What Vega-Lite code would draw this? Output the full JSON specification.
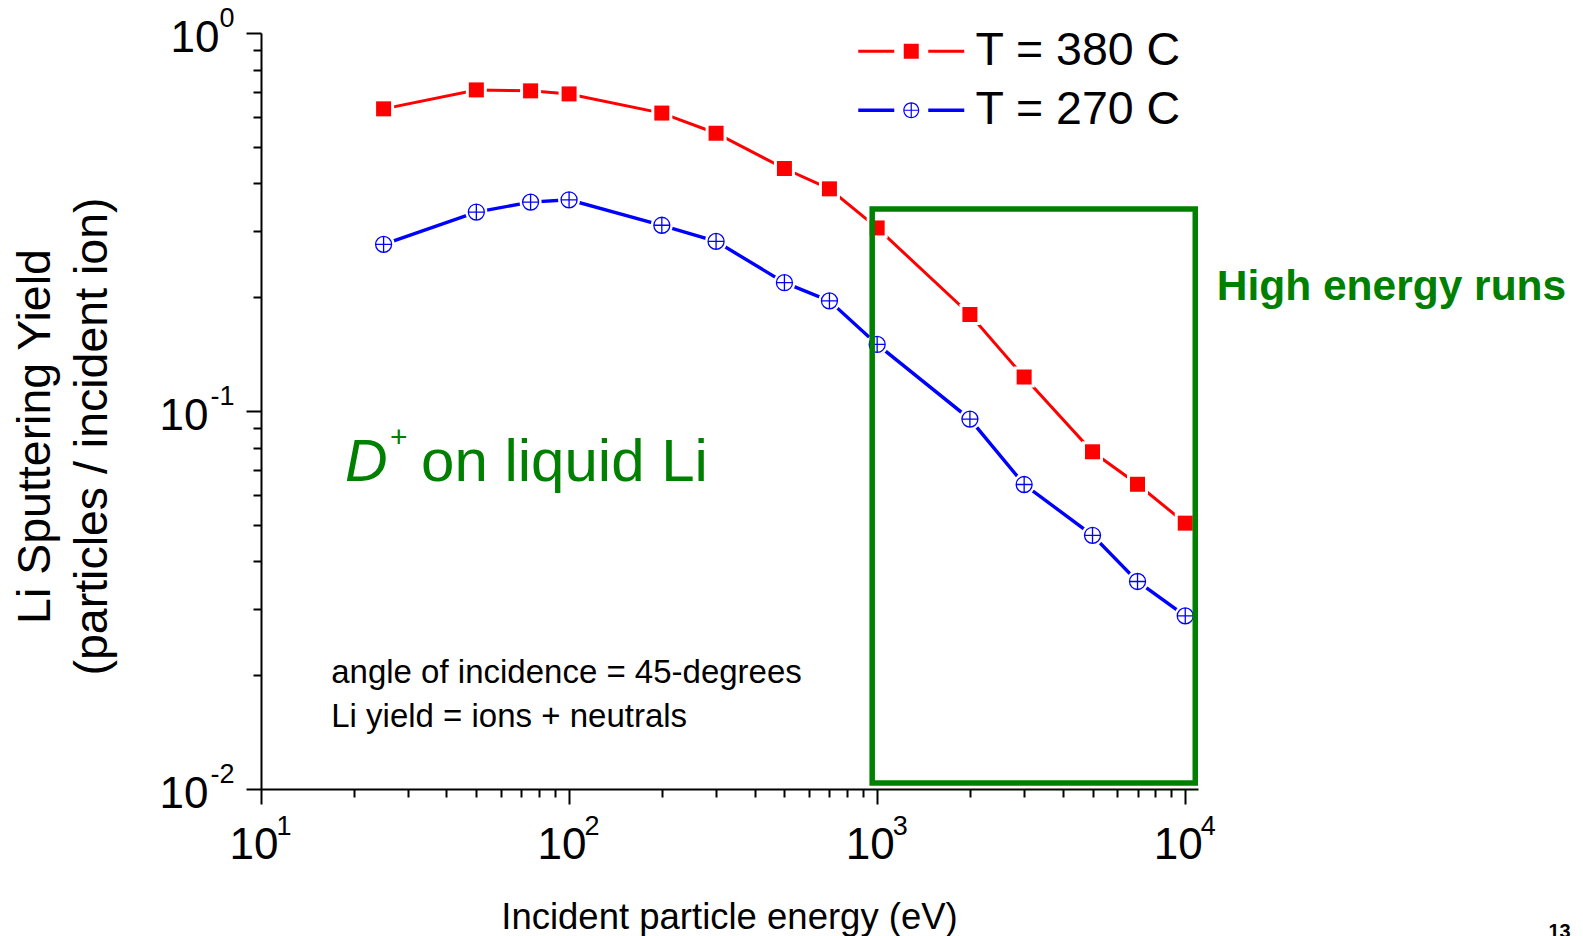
{
  "$schema": "https://vega.github.io/schema/vega-lite/v6.json",
  "width": 937,
  "height": 756,
  "autosize": {"type": "none"},
  "padding": {"left": 261, "top": 33, "right": 385, "bottom": 147},
  "background": "white",
  "config": {
    "view": {"stroke": null},
    "axis": {
      "grid": false,
      "domainColor": "black",
      "tickColor": "black",
      "labelColor": "black",
      "titleColor": "black",
      "labelFont": "Liberation Sans",
      "titleFont": "Liberation Sans",
      "titleFontWeight": "normal",
      "domainWidth": 2,
      "tickWidth": 2,
      "labelFlush": false,
      "labelOverlap": false,
      "labelBound": false
    },
    "text": {"font": "Liberation Sans"}
  },
  "data": {
    "values": [
      {"series": "T = 380 C", "energy": 25, "yield": 0.630},
      {"series": "T = 380 C", "energy": 50, "yield": 0.707},
      {"series": "T = 380 C", "energy": 75, "yield": 0.703},
      {"series": "T = 380 C", "energy": 100, "yield": 0.690},
      {"series": "T = 380 C", "energy": 200, "yield": 0.614},
      {"series": "T = 380 C", "energy": 300, "yield": 0.543},
      {"series": "T = 380 C", "energy": 500, "yield": 0.438},
      {"series": "T = 380 C", "energy": 700, "yield": 0.387},
      {"series": "T = 380 C", "energy": 1000, "yield": 0.305},
      {"series": "T = 380 C", "energy": 2000, "yield": 0.180},
      {"series": "T = 380 C", "energy": 3000, "yield": 0.123},
      {"series": "T = 380 C", "energy": 5000, "yield": 0.078},
      {"series": "T = 380 C", "energy": 7000, "yield": 0.064},
      {"series": "T = 380 C", "energy": 10000, "yield": 0.0505},
      {"series": "T = 270 C", "energy": 25, "yield": 0.276},
      {"series": "T = 270 C", "energy": 50, "yield": 0.336},
      {"series": "T = 270 C", "energy": 75, "yield": 0.357},
      {"series": "T = 270 C", "energy": 100, "yield": 0.362},
      {"series": "T = 270 C", "energy": 200, "yield": 0.310},
      {"series": "T = 270 C", "energy": 300, "yield": 0.281},
      {"series": "T = 270 C", "energy": 500, "yield": 0.2185},
      {"series": "T = 270 C", "energy": 700, "yield": 0.1956},
      {"series": "T = 270 C", "energy": 1000, "yield": 0.150},
      {"series": "T = 270 C", "energy": 2000, "yield": 0.0952},
      {"series": "T = 270 C", "energy": 3000, "yield": 0.0639},
      {"series": "T = 270 C", "energy": 5000, "yield": 0.0469},
      {"series": "T = 270 C", "energy": 7000, "yield": 0.0354},
      {"series": "T = 270 C", "energy": 10000, "yield": 0.0287}
    ]
  },
  "resolve": {"axis": {"x": "independent", "y": "independent"}},
  "layer": [
    {
      "transform": [{"filter": "datum.series === 'T = 380 C'"}],
      "mark": {"type": "line", "color": "#ff0000", "strokeWidth": 3},
      "encoding": {
        "x": {
          "field": "energy",
          "type": "quantitative",
          "scale": {"type": "log", "domain": [10, 11000], "nice": false},
          "axis": {
            "orient": "bottom",
            "values": [10, 100, 1000, 10000],
            "labelExpr": "'10'",
            "tickSize": 15,
            "labelFontSize": 44,
            "labelAlign": "center",
            "labelBaseline": "alphabetic",
            "labelOffset": -7.5,
            "labelPadding": 54,
            "title": "Incident particle energy (eV)",
            "titleFontSize": 36.5,
            "titleX": 468,
            "titleY": 139,
            "titleAlign": "center",
            "titleBaseline": "alphabetic"
          }
        },
        "y": {
          "field": "yield",
          "type": "quantitative",
          "scale": {"type": "log", "domain": [0.01, 1], "nice": false},
          "axis": {
            "orient": "left",
            "values": [0.01, 0.1, 1],
            "labelExpr": "'10'",
            "tickSize": 15,
            "labelFontSize": 44,
            "labelAlign": "right",
            "labelBaseline": "alphabetic",
            "labelOffset": 18,
            "labelPadding": {"condition": {"test": "datum.value > 0.5", "value": 27}, "value": 38},
            "title": ["Li Sputtering Yield", "(particles / incident ion)"],
            "titleFontSize": 46.5,
            "titleLineHeight": 57,
            "titleAngle": 270,
            "titleX": -212,
            "titleY": 403,
            "titleAlign": "center",
            "titleBaseline": "alphabetic"
          }
        }
      }
    },
    {
      "transform": [{"filter": "datum.series === 'T = 270 C'"}],
      "mark": {"type": "line", "color": "#0000ff", "strokeWidth": 3.4},
      "encoding": {
        "x": {
          "field": "energy",
          "type": "quantitative",
          "axis": {
            "orient": "bottom",
            "values": [10, 100, 1000, 10000],
            "labelExpr": "'' + round(log(datum.value) / LN10)",
            "ticks": false,
            "tickSize": 0,
            "domain": false,
            "labelFontSize": 27,
            "labelAlign": "left",
            "labelBaseline": "alphabetic",
            "labelOffset": 15,
            "labelPadding": 45,
            "title": null
          }
        },
        "y": {
          "field": "yield",
          "type": "quantitative",
          "axis": {
            "orient": "left",
            "values": [0.01, 0.1, 1],
            "labelExpr": "'' + round(log(datum.value) / LN10)",
            "ticks": false,
            "tickSize": 0,
            "domain": false,
            "labelFontSize": 27,
            "labelAlign": "right",
            "labelBaseline": "alphabetic",
            "labelOffset": -7,
            "labelPadding": 27,
            "title": null
          }
        }
      }
    },
    {
      "transform": [{"filter": "datum.series === 'T = 380 C'"}],
      "mark": {"type": "point", "shape": "square", "filled": true, "color": "white", "opacity": 1, "size": 441},
      "encoding": {
        "x": {
          "field": "energy",
          "type": "quantitative",
          "axis": {
            "orient": "bottom",
            "values": [20, 30, 40, 50, 60, 70, 80, 90, 200, 300, 400, 500, 600, 700, 800, 900, 2000, 3000, 4000, 5000, 6000, 7000, 8000, 9000],
            "labels": false,
            "domain": false,
            "tickSize": 8,
            "title": null
          }
        },
        "y": {
          "field": "yield",
          "type": "quantitative",
          "axis": {
            "orient": "left",
            "values": [0.02, 0.03, 0.04, 0.05, 0.06, 0.07, 0.08, 0.09, 0.2, 0.3, 0.4, 0.5, 0.6, 0.7, 0.8, 0.9],
            "labels": false,
            "domain": false,
            "tickSize": 8,
            "title": null
          }
        }
      }
    },
    {
      "transform": [{"filter": "datum.series === 'T = 270 C'"}],
      "mark": {"type": "point", "shape": "circle", "filled": true, "color": "white", "opacity": 1, "size": 484},
      "encoding": {
        "x": {"field": "energy", "type": "quantitative", "axis": null},
        "y": {"field": "yield", "type": "quantitative", "axis": null}
      }
    },
    {
      "transform": [{"filter": "datum.series === 'T = 380 C'"}],
      "mark": {"type": "point", "shape": "square", "filled": true, "color": "#ff0000", "opacity": 1, "size": 225},
      "encoding": {
        "x": {"field": "energy", "type": "quantitative", "axis": null},
        "y": {"field": "yield", "type": "quantitative", "axis": null}
      }
    },
    {
      "transform": [{"filter": "datum.series === 'T = 270 C'"}],
      "mark": {
        "type": "point",
        "shape": "M1,0A1,1,0,1,1,-1,0A1,1,0,1,1,1,0ZM-1,0L1,0M0,-1L0,1",
        "filled": true,
        "fill": "white",
        "stroke": "#0000ff",
        "strokeWidth": 1.3,
        "opacity": 1,
        "size": 256
      },
      "encoding": {
        "x": {"field": "energy", "type": "quantitative", "axis": null},
        "y": {"field": "yield", "type": "quantitative", "axis": null}
      }
    },
    {
      "mark": {"type": "point", "filled": true, "opacity": 0},
      "encoding": {
        "x": {"field": "energy", "type": "quantitative", "axis": null},
        "y": {"field": "yield", "type": "quantitative", "axis": null},
        "color": {
          "field": "series",
          "type": "nominal",
          "scale": {"domain": ["T = 380 C", "T = 270 C"], "range": ["#ff0000", "#0000ff"]},
          "legend": {
            "orient": "none",
            "legendX": 627,
            "legendY": -5,
            "title": null,
            "padding": 0,
            "symbolSize": 1600,
            "symbolStrokeWidth": 0,
            "symbolOpacity": 1,
            "labelFontSize": 46.5,
            "labelFont": "Liberation Sans",
            "labelColor": "black",
            "labelOffset": 41,
            "labelLimit": 0,
            "rowPadding": 12,
            "direction": "vertical"
          }
        },
        "shape": {
          "field": "series",
          "type": "nominal",
          "scale": {
            "domain": ["T = 380 C", "T = 270 C"],
            "range": [
              "M-2.65,-0.075H-0.85V0.075H-2.65ZM0.85,-0.075H2.65V0.075H0.85ZM-0.375,-0.375H0.375V0.375H-0.375Z",
              "M-2.65,-0.083H-0.85V0.083H-2.65ZM0.85,-0.083H2.65V0.083H0.85ZM0.4,0A0.4,0.4,0,1,1,-0.4,0A0.4,0.4,0,1,1,0.4,0ZM0.34,0A0.34,0.34,0,1,0,-0.34,0A0.34,0.34,0,1,0,0.34,0ZM-0.36,-0.03H0.36V0.03H-0.36ZM-0.03,-0.36H0.03V0.36H-0.03Z"
            ]
          },
          "legend": {
            "orient": "none",
            "legendX": 627,
            "legendY": -5,
            "title": null,
            "padding": 0,
            "symbolSize": 1600,
            "symbolStrokeWidth": 0,
            "symbolOpacity": 1,
            "labelFontSize": 46.5,
            "labelFont": "Liberation Sans",
            "labelColor": "black",
            "labelOffset": 41,
            "labelLimit": 0,
            "rowPadding": 12,
            "direction": "vertical"
          }
        }
      }
    },
    {
      "data": {"values": [{}]},
      "mark": {"type": "rect", "filled": false, "color": "#008000", "strokeWidth": 5.5},
      "encoding": {
        "x": {"datum": 963.5, "type": "quantitative", "axis": null},
        "x2": {"datum": 10777},
        "y": {"datum": 0.3422, "type": "quantitative", "axis": null},
        "y2": {"datum": 0.01037}
      }
    },
    {
      "data": {"values": [{}]},
      "mark": {
        "type": "text",
        "text": ["angle of incidence = 45-degrees", "Li yield = ions + neutrals"],
        "align": "left",
        "baseline": "alphabetic",
        "fontSize": 33,
        "lineHeight": 44,
        "color": "black"
      },
      "encoding": {
        "x": {"datum": 16.9, "type": "quantitative", "axis": null},
        "y": {"datum": 0.01911, "type": "quantitative", "axis": null}
      }
    },
    {
      "data": {"values": [{}]},
      "mark": {"type": "text", "text": "D", "fontStyle": "italic", "align": "left", "baseline": "alphabetic", "fontSize": 59, "color": "#008000"},
      "encoding": {
        "x": {"datum": 18.74, "type": "quantitative", "axis": null},
        "y": {"datum": 0.0653, "type": "quantitative", "axis": null}
      }
    },
    {
      "data": {"values": [{}]},
      "mark": {"type": "text", "text": "+", "align": "left", "baseline": "alphabetic", "fontSize": 30, "dx": 45, "dy": -34, "color": "#008000"},
      "encoding": {
        "x": {"datum": 18.74, "type": "quantitative", "axis": null},
        "y": {"datum": 0.0653, "type": "quantitative", "axis": null}
      }
    },
    {
      "data": {"values": [{}]},
      "mark": {"type": "text", "text": "on liquid Li", "align": "left", "baseline": "alphabetic", "fontSize": 60, "dx": 76, "color": "#008000"},
      "encoding": {
        "x": {"datum": 18.74, "type": "quantitative", "axis": null},
        "y": {"datum": 0.0653, "type": "quantitative", "axis": null}
      }
    },
    {
      "data": {"values": [{}]},
      "mark": {"type": "text", "text": "High energy runs", "align": "left", "baseline": "alphabetic", "fontSize": 42.5, "fontWeight": "bold", "color": "#008000"},
      "encoding": {
        "x": {"datum": 12650, "type": "quantitative", "axis": null},
        "y": {"datum": 0.1966, "type": "quantitative", "axis": null}
      }
    },
    {
      "data": {"values": [{}]},
      "mark": {"type": "text", "text": "13", "align": "left", "baseline": "alphabetic", "fontSize": 20, "fontWeight": "bold", "color": "black"},
      "encoding": {
        "x": {"datum": 150900, "type": "quantitative", "axis": null},
        "y": {"datum": 0.00404, "type": "quantitative", "axis": null}
      }
    }
  ]
}
